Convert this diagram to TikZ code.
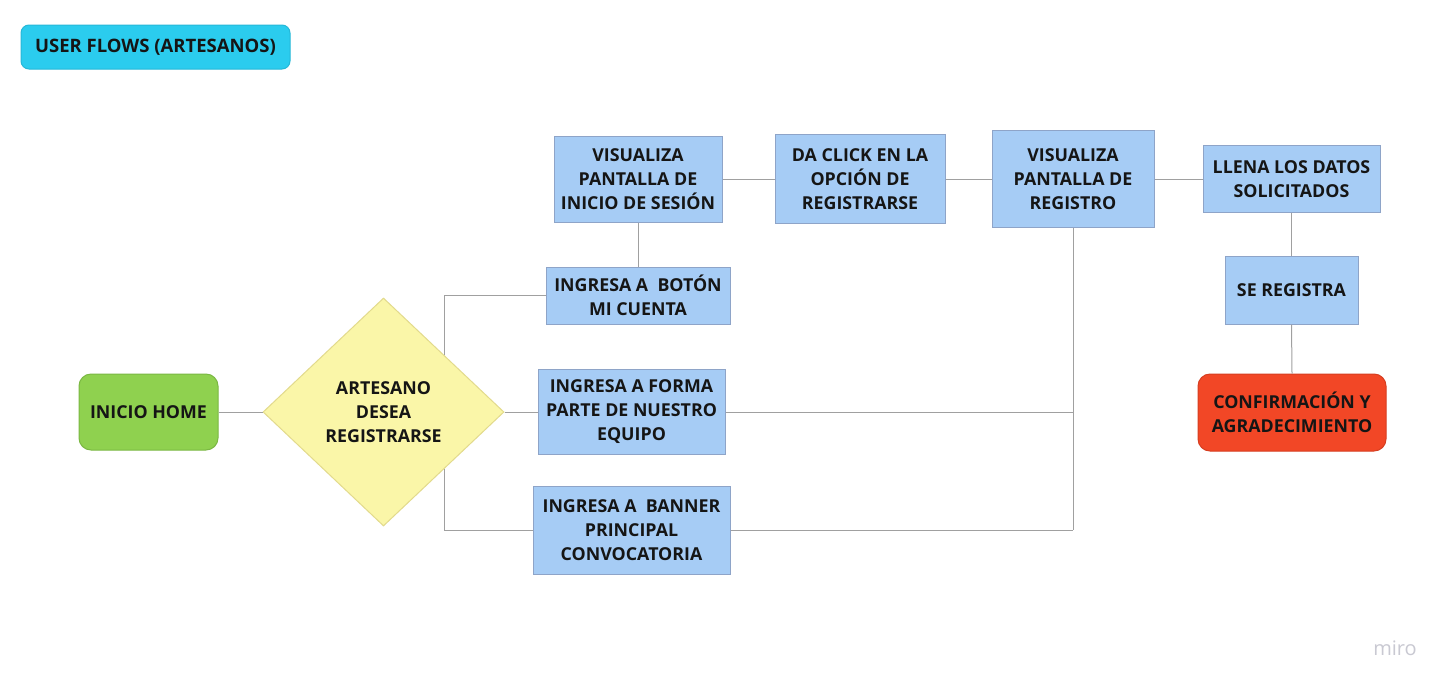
\documentclass[tikz,border=0pt]{standalone}
\usepackage{fontspec}
\setmainfont{Open Sans}
\usetikzlibrary{shapes.geometric}
\definecolor{txt}{HTML}{151515}
\definecolor{bluefill}{HTML}{A6CCF5}
\definecolor{blueline}{HTML}{8EA4C8}
\definecolor{yelfill}{HTML}{FAF6A8}
\definecolor{yelline}{HTML}{E2DA8C}
\definecolor{grnfill}{HTML}{8FD14F}
\definecolor{grnline}{HTML}{7BB843}
\definecolor{redfill}{HTML}{F24726}
\definecolor{redline}{HTML}{D63E20}
\definecolor{cyanfill}{HTML}{2BCCEE}
\definecolor{cyanline}{HTML}{25B8D8}
\definecolor{conn}{HTML}{A0A0A0}
\definecolor{wm}{HTML}{C9C9D2}
\tikzset{
  base/.style={inner sep=0pt, align=center, text=txt, font=\fontsize{17.8}{24}\selectfont\bfseries},
  stepbox/.style={base, rectangle, fill=bluefill, draw=blueline, line width=1pt},
  roundbox/.style={base, rectangle, rounded corners=12pt, line width=1pt},
  decisionbox/.style={base, diamond, aspect=1, fill=yelfill, draw=yelline, line width=1pt},
  link/.style={draw=conn, line width=1pt}
}
\begin{document}
\begin{tikzpicture}[x=1pt,y=-1pt]
\useasboundingbox (0,0) rectangle (1451,689);
\fill[white] (0,0) rectangle (1451,689);

\node[roundbox, rounded corners=8pt, fill=cyanfill, draw=cyanline, minimum width=269pt, minimum height=44pt, font=\fontsize{18.5}{24}\selectfont\bfseries] (title) at (155.5,47) {USER FLOWS (ARTESANOS)};

\node[roundbox, fill=grnfill, draw=grnline, minimum width=139pt, minimum height=76pt] (home) at (148.5,412) {INICIO HOME};

\node[decisionbox, minimum width=241pt, minimum height=228pt] (dec) at (383.5,412) {ARTESANO\\DESEA\\REGISTRARSE};

\node[stepbox, minimum width=184pt, minimum height=57pt] (boton) at (638,295.5) {INGRESA A\ \ BOTÓN\\MI CUENTA};
\node[stepbox, minimum width=187pt, minimum height=85pt] (forma) at (631.5,412) {INGRESA A FORMA\\PARTE DE NUESTRO\\EQUIPO};
\node[stepbox, minimum width=197pt, minimum height=88pt] (banner) at (631.5,530) {INGRESA A\ \ BANNER\\PRINCIPAL\\CONVOCATORIA};

\node[stepbox, minimum width=168pt, minimum height=86pt] (sesion) at (638,179) {VISUALIZA\\PANTALLA DE\\INICIO DE SESIÓN};
\node[stepbox, minimum width=170pt, minimum height=89pt] (click) at (860,179) {DA CLICK EN LA\\OPCIÓN DE\\REGISTRARSE};
\node[stepbox, minimum width=162pt, minimum height=97pt] (registro) at (1073,179) {VISUALIZA\\PANTALLA DE\\REGISTRO};
\node[stepbox, minimum width=177pt, minimum height=67pt] (llena) at (1291.5,179) {LLENA LOS DATOS\\SOLICITADOS};
\node[stepbox, minimum width=133pt, minimum height=68pt] (seregistra) at (1291.5,290) {SE REGISTRA};
\node[roundbox, fill=redfill, draw=redline, minimum width=188pt, minimum height=77pt] (confirm) at (1292,412.5) {CONFIRMACIÓN Y\\AGRADECIMIENTO};

\node[inner sep=0pt, text=wm, font=\fontsize{20}{24}\selectfont] (miro) at (1395,648) {miro};

\draw[link] (home.east) -- (dec.west);
\draw[link] (dec.east) -- (forma.west);
\draw[link] (dec.north east) |- (boton.west);
\draw[link] (dec.south east) |- (banner.west);
\draw[link] (boton.north) -- (sesion.south);
\draw[link] (sesion.east) -- (click.west);
\draw[link] (click.east) -- (registro.west);
\draw[link] (registro.east) -- (llena.west);
\draw[link] (llena.south) -- (seregistra.north);
\draw[link] (seregistra.south) -- (confirm.north);
\draw[link] (registro.south) -- (registro.south |- banner.east);
\draw[link] (forma.east) -- (forma.east -| registro.south);
\draw[link] (banner.east) -- (banner.east -| registro.south);
\end{tikzpicture}
\end{document}
